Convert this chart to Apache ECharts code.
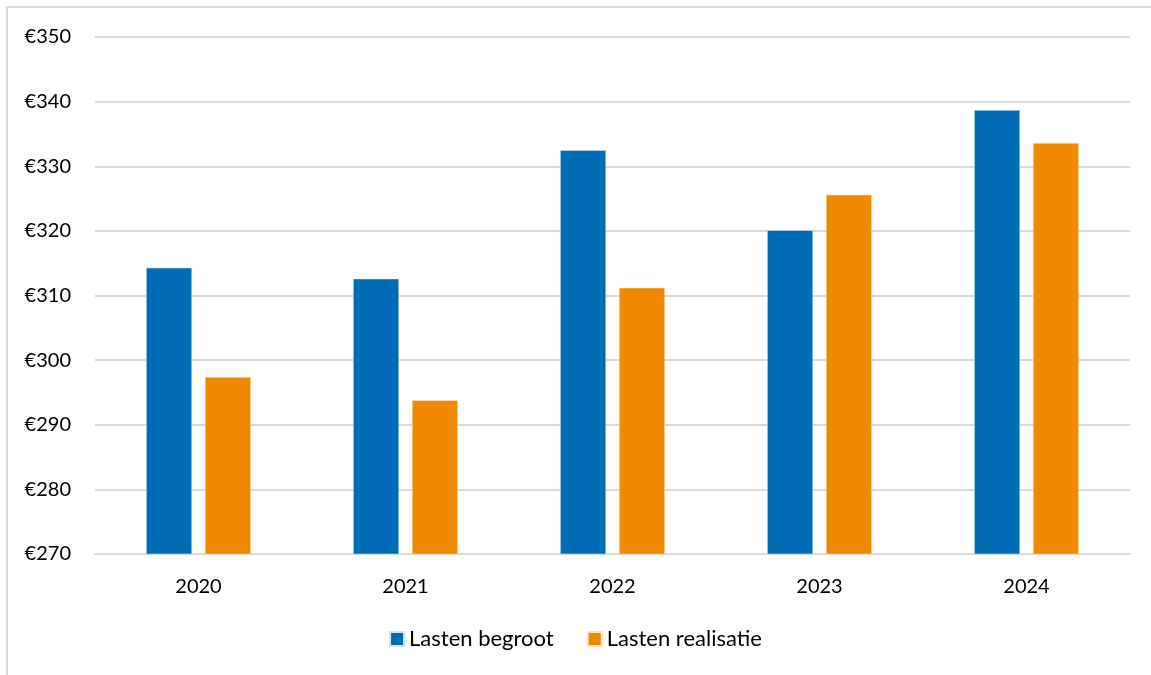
<!DOCTYPE html>
<html>
<head>
<meta charset="utf-8">
<script src="https://cdn.jsdelivr.net/npm/echarts@6/dist/echarts.min.js"></script>
<style>html,body{margin:0;padding:0;background:#fff;}#c{width:1151px;height:675px;}</style>
</head>
<body>
<div id="c"></div>
<script>
const categories = ['2020', '2021', '2022', '2023', '2024'];
const seriesNames = ['Lasten begroot', 'Lasten realisatie'];
const lastenBegroot = [314.3, 312.6, 332.5, 320.1, 338.7];
const lastenRealisatie = [297.4, 293.8, 311.2, 325.6, 333.6];
const yTicks = [270, 280, 290, 300, 310, 320, 330, 340, 350];

const FONT = 'Lato';
const chart = echarts.init(document.getElementById('c'), null, {renderer: 'canvas'});
chart.setOption({
  animation: false,
  backgroundColor: '#ffffff',
  textStyle: {fontFamily: FONT},
  graphic: [{
    type: 'rect',
    shape: {x: 7, y: 7, width: 1300, height: 800},
    style: {fill: 'none', stroke: '#d9d9d9', lineWidth: 2},
    silent: true, z: -1
  }],
  grid: {left: 95, right: 21, top: 37, bottom: 121, containLabel: false},
  legend: {
    data: seriesNames,
    bottom: 20,
    left: 'center',
    icon: 'rect',
    itemWidth: 14,
    itemHeight: 14,
    itemGap: 33,
    textStyle: {fontFamily: FONT, fontSize: 22, color: '#000'}
  },
  xAxis: {
    type: 'category',
    data: categories,
    axisLine: {lineStyle: {color: '#d9d9d9', width: 2}},
    axisTick: {show: false},
    axisLabel: {fontFamily: FONT, fontSize: 20, color: '#000', margin: 23}
  },
  yAxis: {
    type: 'value',
    min: yTicks[0],
    max: yTicks[yTicks.length - 1],
    interval: 10,
    axisLine: {show: false},
    axisTick: {show: false},
    splitLine: {lineStyle: {color: '#d9d9d9', width: 2}},
    axisLabel: {fontFamily: FONT, fontSize: 20, color: '#000', margin: 24, formatter: v => '€' + v}
  },
  series: [
    {name: seriesNames[0], type: 'bar', data: lastenBegroot, barWidth: 46, barGap: '28%',
     itemStyle: {color: '#006CB5', borderColor: '#cfe3f3', borderWidth: 0.6}},
    {name: seriesNames[1], type: 'bar', data: lastenRealisatie, barWidth: 46,
     itemStyle: {color: '#EF8A00', borderColor: '#fbe3c3', borderWidth: 0.6}}
  ]
});
</script>
</body>
</html>
